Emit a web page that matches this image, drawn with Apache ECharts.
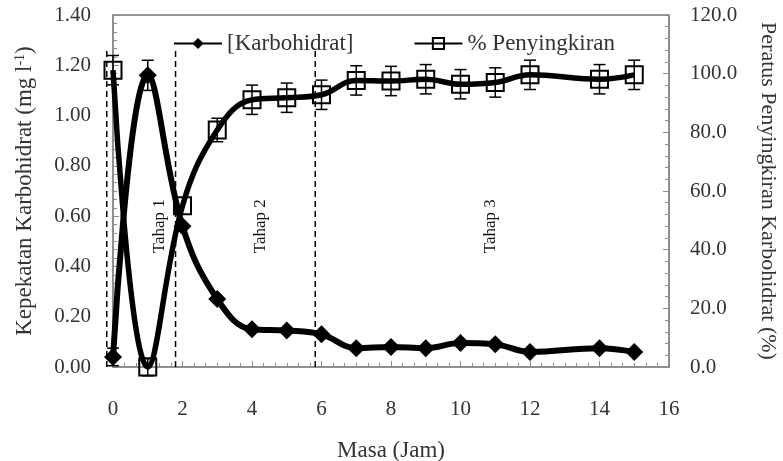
<!DOCTYPE html>
<html>
<head>
<meta charset="utf-8">
<script src="https://cdn.jsdelivr.net/npm/echarts@6/dist/echarts.min.js"></script>
<style>
  html, body { margin: 0; padding: 0; background: #fff; }
  #chart { width: 783px; height: 461px; }
</style>
</head>
<body>
<div id="chart"></div>
<script>
// masa (jam)
const hours = [0, 1, 2, 3, 4, 5, 6, 7, 8, 9, 10, 11, 12, 14, 15]
// [Karbohidrat] mg/l
const carbo = [0.04, 1.16, 0.56, 0.27, 0.15, 0.145, 0.13, 0.075, 0.08, 0.075, 0.095, 0.09, 0.06, 0.075, 0.06]
const carboErr = [0.035, 0.06, 0, 0, 0, 0, 0, 0, 0, 0, 0, 0, 0, 0, 0]
// % penyingkiran
const removal = [101.2, 0, 55, 80.8, 91.1, 91.8, 92.8, 97.7, 97.5, 98.1, 96.4, 97.0, 99.6, 98.1, 99.6]
const removalErr = [5, 3, 0, 4, 5, 5, 5, 5, 5, 5, 5, 5, 5, 5, 5]
// tahap
const stageBounds = [-0.18, 1.8, 5.82]
const stageTop = 1.26
const stageLabels = ['Tahap 1', 'Tahap 2', 'Tahap 3']
const stageLabelX = [1.35, 4.25, 10.85]
const stageLabelY = 0.56

const font = 'Liberation Serif, Times New Roman, serif'
const txt = '#333'
const axisGray = '#8c8c8c'

const pair = (ys) => hours.map((h, i) => [h, ys[i]])
const errData = (ys, es) => hours.map((h, i) => [h, ys[i] - es[i], ys[i] + es[i]])

const renderErr = (params, api) => {
  if (api.value(1) === api.value(2)) return
  const lo = api.coord([api.value(0), api.value(1)])
  const hi = api.coord([api.value(0), api.value(2)])
  const cap = 6
  const style = { stroke: '#000', lineWidth: 1.5 }
  return {
    type: 'group',
    children: [
      { type: 'line', shape: { x1: lo[0], y1: lo[1], x2: hi[0], y2: hi[1] }, style },
      { type: 'line', shape: { x1: lo[0] - cap, y1: lo[1], x2: lo[0] + cap, y2: lo[1] }, style },
      { type: 'line', shape: { x1: hi[0] - cap, y1: hi[1], x2: hi[0] + cap, y2: hi[1] }, style },
    ],
  }
}

const chart = echarts.init(document.getElementById('chart'))
chart.setOption({
  backgroundColor: '#fff',
  animation: false,
  textStyle: { fontFamily: font },
  grid: {
    left: 113, right: 114, top: 15, bottom: 94,
    containLabel: false, outerBoundsMode: 'none',
    show: true, borderColor: '#777', borderWidth: 1.5,
  },
  legend: {
    left: 168,
    top: 27,
    itemWidth: 48,
    itemHeight: 14,
    itemGap: 60,
    textStyle: { fontSize: 23, color: txt, fontFamily: font },
    data: ['[Karbohidrat]', '% Penyingkiran'],
  },
  xAxis: {
    type: 'value',
    min: 0,
    max: 16,
    interval: 2,
    name: 'Masa (Jam)',
    nameLocation: 'middle',
    nameGap: 72,
    nameTextStyle: { fontSize: 23, color: txt, fontFamily: font },
    axisLine: { lineStyle: { color: axisGray, width: 1.5 } },
    axisTick: { inside: true, length: 6, lineStyle: { color: axisGray } },
    minorTick: { show: true, splitNumber: 6, length: 4, lineStyle: { color: axisGray } },
    splitLine: { show: false },
    axisLabel: { fontSize: 21, color: txt, margin: 32, fontFamily: font },
  },
  yAxis: [
    {
      type: 'value',
      min: 0,
      max: 1.4,
      interval: 0.2,
      name: 'Kepekatan Karbohidrat (mg l{sup|-1})',
      nameLocation: 'middle',
      nameGap: 76,
      nameTextStyle: {
        fontSize: 23, color: txt, fontFamily: font,
        rich: { sup: { fontSize: 14, verticalAlign: 'top', color: txt, fontFamily: font, padding: [0, 0, 10, 0] } },
      },
      axisLine: { show: true, lineStyle: { color: axisGray, width: 1.5 } },
      axisTick: { show: true, inside: true, length: 6, lineStyle: { color: axisGray } },
      minorTick: { show: true, splitNumber: 6, length: 4, lineStyle: { color: axisGray } },
      splitLine: { show: false },
      axisLabel: { fontSize: 21, color: txt, margin: 22, fontFamily: font, formatter: (v) => v.toFixed(2) },
    },
    {
      type: 'value',
      min: 0,
      max: 120,
      interval: 20,
      position: 'right',
      name: 'Peratus Penyingkiran Karbohidrat (%)',
      nameLocation: 'middle',
      nameRotate: -90,
      nameGap: 88,
      nameTextStyle: { fontSize: 22, color: txt, fontFamily: font },
      axisLine: { show: true, lineStyle: { color: axisGray, width: 1.5 } },
      axisTick: { show: true, inside: true, length: 6, lineStyle: { color: axisGray } },
      minorTick: { show: true, splitNumber: 5, length: 4, lineStyle: { color: axisGray } },
      splitLine: { show: false },
      axisLabel: { fontSize: 21, color: txt, margin: 21, fontFamily: font, formatter: (v) => v.toFixed(1) },
    },
  ],
  series: [
    {
      name: 'stages',
      type: 'custom',
      clip: false,
      silent: true,
      z: 1,
      data: stageBounds.map((x) => [x, stageTop]),
      renderItem: (params, api) => {
        const a = api.coord([api.value(0), 0])
        const b = api.coord([api.value(0), api.value(1)])
        return {
          type: 'line',
          shape: { x1: a[0], y1: a[1], x2: b[0], y2: b[1] },
          style: { stroke: '#000', lineWidth: 1.5, lineDash: [6, 4] },
        }
      },
    },
    {
      name: 'stageText',
      type: 'custom',
      silent: true,
      z: 1,
      data: stageLabelX.map((x, i) => [x, stageLabelY, i]),
      renderItem: (params, api) => {
        const p = api.coord([api.value(0), api.value(1)])
        return {
          type: 'text',
          x: p[0],
          y: p[1],
          rotation: Math.PI / 2,
          style: {
            text: stageLabels[api.value(2)],
            fontSize: 17,
            fontFamily: font,
            fill: '#111',
            align: 'center',
            verticalAlign: 'middle',
          },
        }
      },
    },
    {
      name: '[Karbohidrat]',
      type: 'line',
      yAxisIndex: 0,
      smooth: 0.4,
      z: 3,
      data: pair(carbo),
      symbol: 'diamond',
      symbolSize: 18,
      lineStyle: { color: '#000', width: 6 },
      itemStyle: { color: '#000' },
    },
    {
      name: '% Penyingkiran',
      type: 'line',
      yAxisIndex: 1,
      smooth: 0.4,
      z: 3,
      data: pair(removal),
      symbol: 'rect',
      symbolSize: 17,
      lineStyle: { color: '#000', width: 5.5 },
      itemStyle: { color: 'rgba(255,255,255,0)', borderColor: '#000', borderWidth: 2 },
    },
    {
      name: 'errKarbo',
      type: 'custom',
      yAxisIndex: 0,
      silent: true,
      z: 4,
      data: errData(carbo, carboErr),
      renderItem: renderErr,
    },
    {
      name: 'errRemoval',
      type: 'custom',
      yAxisIndex: 1,
      silent: true,
      z: 4,
      data: errData(removal, removalErr),
      renderItem: renderErr,
    },
  ],
})
</script>
</body>
</html>
